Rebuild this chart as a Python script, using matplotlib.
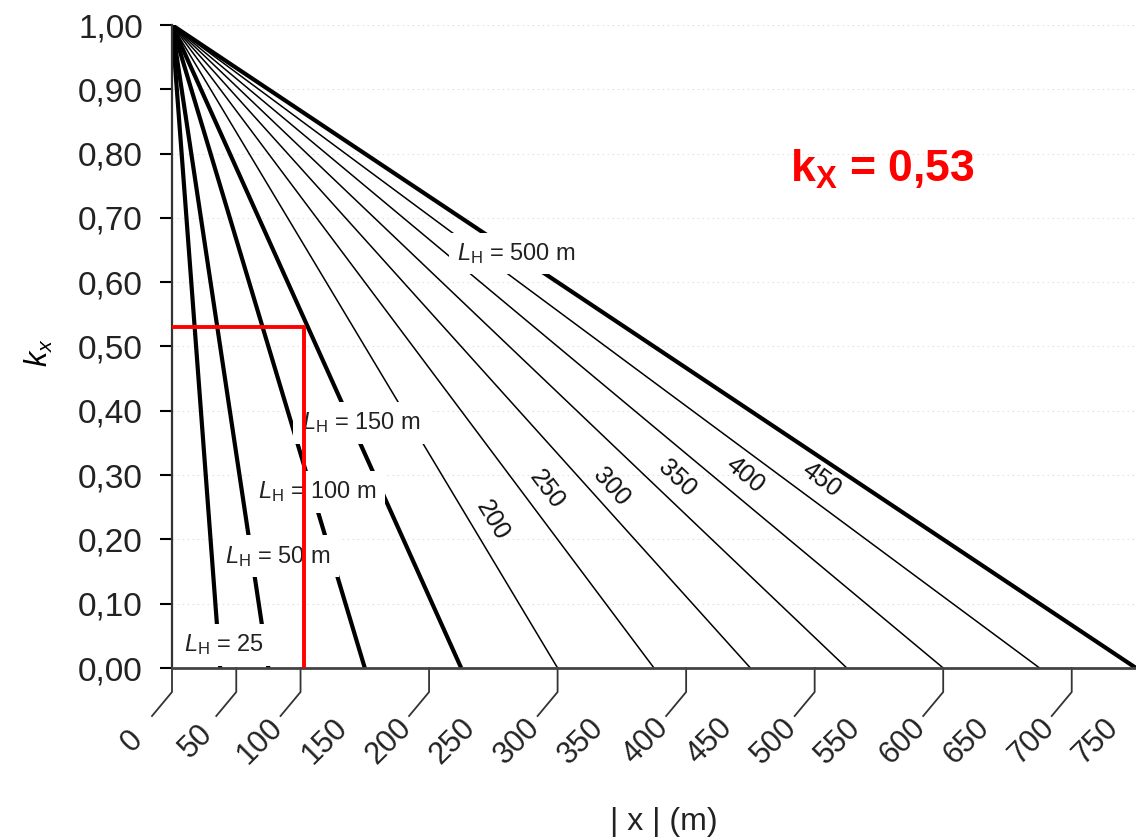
import numpy as np
import matplotlib
matplotlib.use("Agg")
import matplotlib.pyplot as plt

plt.rcParams['font.family'] = 'Liberation Sans'
plt.rcParams['mathtext.fontset'] = 'custom'
plt.rcParams['mathtext.rm'] = 'Liberation Sans'
plt.rcParams['mathtext.it'] = 'Liberation Sans:italic'
plt.rcParams['mathtext.bf'] = 'Liberation Sans:bold'

# L_H of each curve (m) and |x| (m) where that curve reaches k_x = 0
lh_values = [25, 50, 100, 150, 200, 250, 300, 350, 400, 450, 500]
x_at_zero = [37.5, 75, 150, 225, 300, 375, 450, 525, 600, 675, 750]
thick_curves = [25, 50, 100, 150, 500]

# axis ticks
x_tick_values = [0, 50, 100, 150, 200, 250, 300, 350, 400, 450, 500, 550, 600, 650, 700, 750]
leader_ticks = [0, 50, 100, 200, 300, 400, 500, 600, 700]
y_tick_values = [0.0, 0.1, 0.2, 0.3, 0.4, 0.5, 0.6, 0.7, 0.8, 0.9, 1.0]

# read-off example (red)
x_read = 103
kx_read = 0.53

# label placement (layout only)
boxed_labels = {25: (40.5, 0.036, ''), 50: (82.5, 0.174, ' m'), 100: (113, 0.274, ' m'),
                150: (147, 0.381, ' m'), 500: (268, 0.645, ' m')}
inline_labels = {200: (249, 0.230), 250: (292, 0.277), 300: (342, 0.281),
                 350: (393, 0.295), 400: (446, 0.300), 450: (505, 0.292)}

fig = plt.figure(figsize=(11.36, 8.38), dpi=100)
ax = fig.add_axes([172 / 1136, 170 / 838, 964 / 1136, 643 / 838])
ax.set_xlim(0, 750)
ax.set_ylim(0, 1)

# curves
for lh, x0 in zip(lh_values, x_at_zero):
    lw = 3.0 if lh in thick_curves else 1.1
    ax.plot([0, x0], [1, 0], color='black', lw=lw, solid_capstyle='butt', zorder=2)

# boxed L_H labels (white box cuts the lines)
for lh, (lx, ly, unit) in boxed_labels.items():
    ax.text(lx, ly, r'$L_{\mathrm{H}}$ = %d%s' % (lh, unit), ha='center', va='center',
            fontsize=17, color='#222222', zorder=3,
            bbox=dict(boxstyle='square,pad=0.35', fc='white', ec='none'))

# rotated labels along the thin lines
for lh, x0 in zip(lh_values, x_at_zero):
    if lh not in inline_labels:
        continue
    p0 = ax.transData.transform((0, 1))
    p1 = ax.transData.transform((x0, 0))
    ang = np.degrees(np.arctan2(p1[1] - p0[1], p1[0] - p0[0]))
    lx, ly = inline_labels[lh]
    ax.text(lx, ly, str(lh), rotation=ang, rotation_mode='anchor', ha='center', va='center',
            fontsize=18, color='#111111', zorder=3)

# red read-off
ax.plot([0, x_read, x_read], [kx_read, kx_read, 0], color='red', lw=2.8, zorder=5)
ax.text(481, 0.756, r'$\mathbf{k}_{\mathbf{X}}$ = 0,53', color='red', fontsize=32,
        fontweight='bold', ha='left', va='baseline')

# axes styling
for s in ['top', 'right']:
    ax.spines[s].set_visible(False)
ax.spines['left'].set_color('#333333')
ax.spines['left'].set_linewidth(1.6)
ax.spines['bottom'].set_color('#444444')
ax.spines['bottom'].set_linewidth(2)

ax.set_yticks(y_tick_values, labels=[('%.2f' % v).replace('.', ',') for v in y_tick_values])
ax.tick_params(axis='y', length=9, width=1.5, pad=12, labelsize=24, labelcolor='#222222')
ax.set_xticks([])
ax.grid(axis='y', color='#e2e2e2', linestyle=(0, (1.5, 3)), linewidth=0.8)
ax.set_axisbelow(True)

# x labels with leader lines, as in the scanned chart
inv = ax.transData.inverted()
for v in leader_ticks:
    bx, by = ax.transData.transform((v, 0))
    pts = inv.transform([(bx, by), (bx, by - 24), (bx - 20, by - 48)])
    ax.plot(pts[:, 0], pts[:, 1], color='#333333', lw=1.3, clip_on=False)
for v in x_tick_values:
    ax.annotate(str(v), xy=(v, 0), xytext=(-29, -53), textcoords='offset points',
                rotation=45, rotation_mode='anchor', ha='center', va='center',
                fontsize=22, color='#222222', annotation_clip=False)

ax.set_ylabel(r'$k_x$', fontsize=22)
ax.yaxis.set_label_coords(-0.121, 0.49)
fig.text(664 / 1136, 1 - 822 / 838, '| x | (m)', ha='center', va='center', fontsize=23,
         color='#222222')

fig.savefig('out.png', dpi=100)
